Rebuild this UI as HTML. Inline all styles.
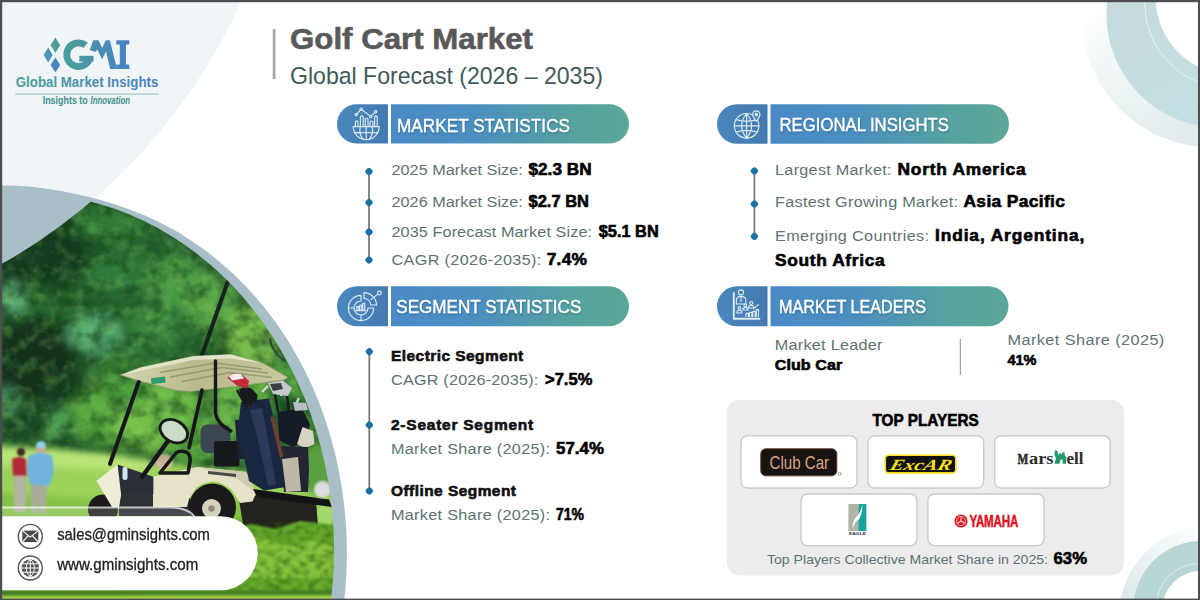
<!DOCTYPE html>
<html lang="en"><head><meta charset="utf-8"><title>Golf Cart Market</title>
<style>
html,body{margin:0;padding:0;background:#fff;}
body{width:1200px;height:600px;overflow:hidden;font-family:"Liberation Sans", sans-serif;}
svg{display:block;font-family:"Liberation Sans", sans-serif;}
text{white-space:pre;}
</style></head><body>
<svg width="1200" height="600" viewBox="0 0 1200 600">
<defs>
<linearGradient id="roofg" x1="125" y1="370" x2="280" y2="385" gradientUnits="userSpaceOnUse"><stop offset="0" stop-color="#d3d6ae"/><stop offset="0.45" stop-color="#b9ba8c"/><stop offset="1" stop-color="#c6c79c"/></linearGradient>
<linearGradient id="ringTR" x1="1110" y1="5" x2="1200" y2="115" gradientUnits="userSpaceOnUse"><stop offset="0" stop-color="#c6dada"/><stop offset="1" stop-color="#c2e0e2"/></linearGradient>
<linearGradient id="pg" x1="0" y1="0" x2="1" y2="0"><stop offset="0" stop-color="#4a8ac6"/><stop offset="0.35" stop-color="#4b8fc0"/><stop offset="0.75" stop-color="#56a2a0"/><stop offset="1" stop-color="#5ba897"/></linearGradient>
<linearGradient id="pl" x1="0" y1="0" x2="1" y2="0"><stop offset="0" stop-color="#4a86bd"/><stop offset="1" stop-color="#447bb0"/></linearGradient>
<linearGradient id="lgu" x1="63" y1="0" x2="130" y2="0" gradientUnits="userSpaceOnUse"><stop offset="0" stop-color="#4b9f97"/><stop offset="1" stop-color="#4a80c6"/></linearGradient>
<linearGradient id="lg" x1="0" y1="0" x2="1" y2="0"><stop offset="0" stop-color="#4b9f97"/><stop offset="1" stop-color="#4a7fc6"/></linearGradient>
<linearGradient id="faintTR" x1="1090" y1="10" x2="1195" y2="145" gradientUnits="userSpaceOnUse"><stop offset="0" stop-color="#ffffff"/><stop offset="0.25" stop-color="#f3f8f8"/><stop offset="1" stop-color="#dfeaea"/></linearGradient>
<linearGradient id="faintBR" x1="1198" y1="525" x2="1122" y2="598" gradientUnits="userSpaceOnUse"><stop offset="0" stop-color="#ffffff"/><stop offset="0.3" stop-color="#f2f8f8"/><stop offset="1" stop-color="#dde9e9"/></linearGradient>
<clipPath id="c1clip"><circle cx="-278.9" cy="-232.6" r="570.4"/></clipPath>
<clipPath id="innerclip"><ellipse cx="24.7" cy="550.3" rx="309.4" ry="357"/></clipPath>
<mask id="notc1"><rect x="0" y="0" width="1200" height="600" fill="#fff"/><circle cx="-278.9" cy="-232.6" r="570.4" fill="#000"/></mask>
<filter id="b3" x="-20%" y="-20%" width="140%" height="140%"><feGaussianBlur stdDeviation="3"/></filter>
<filter id="b6" x="-30%" y="-30%" width="160%" height="160%"><feGaussianBlur stdDeviation="6"/></filter>
<filter id="b10" x="-40%" y="-40%" width="180%" height="180%"><feGaussianBlur stdDeviation="10"/></filter>
<filter id="leaf" x="0" y="0" width="100%" height="100%" color-interpolation-filters="sRGB"><feTurbulence type="fractalNoise" baseFrequency="0.055 0.06" numOctaves="3" seed="7" result="n"/><feColorMatrix in="n" type="matrix" values="0 0 0 0 0.05  0 0 0 0 0.2  0 0 0 0 0.08  2.6 0 0 0 -1.05"/></filter>
<filter id="leaf2" x="0" y="0" width="100%" height="100%" color-interpolation-filters="sRGB"><feTurbulence type="fractalNoise" baseFrequency="0.07 0.075" numOctaves="3" seed="23" result="n"/><feColorMatrix in="n" type="matrix" values="0 0 0 0 0.55  0 0 0 0 0.85  0 0 0 0 0.4  0 2.8 0 0 -1.25"/></filter>
<filter id="grassn" x="0" y="0" width="100%" height="100%" color-interpolation-filters="sRGB"><feTurbulence type="fractalNoise" baseFrequency="0.12 0.2" numOctaves="2" seed="3" result="n"/><feColorMatrix in="n" type="matrix" values="0 0 0 0 0.18  0 0 0 0 0.36  0 0 0 0 0.06  0 0 2.8 0 -1.15"/></filter>
<filter id="b1" x="-10%" y="-10%" width="120%" height="120%"><feGaussianBlur stdDeviation="0.8"/></filter>
<filter id="ts" x="-5%" y="-20%" width="110%" height="150%"><feDropShadow dx="0.6" dy="1" stdDeviation="0.8" flood-color="#1d3c5c" flood-opacity="0.45"/></filter>
</defs>
<rect x="0" y="0" width="1200" height="600" fill="#ffffff"/>
<circle cx="1213" cy="16" r="131.6" fill="url(#faintTR)"/>
<circle cx="1219.4" cy="14.6" r="112.9" fill="url(#ringTR)"/>
<circle cx="1228.6" cy="4" r="83.7" fill="none" stroke="#eef7f7" stroke-width="0.8"/>
<circle cx="1231.6" cy="-1.6" r="75.8" fill="#ffffff"/>
<circle cx="1209" cy="615.6" r="89.7" fill="url(#faintBR)"/>
<circle cx="1202" cy="609.4" r="68.7" fill="#b9d6d7"/>
<circle cx="1199" cy="606" r="42.5" fill="none" stroke="#e4f3f3" stroke-width="0.8"/>
<circle cx="1201.1" cy="609.4" r="38.7" fill="#ffffff"/>
<circle cx="-278.9" cy="-232.6" r="570.4" fill="#eff4f6"/>
<path d="M-11.9 186.0 L-2.7 185.6 L6.4 185.5 L15.5 185.8 L24.6 186.3 L33.7 187.1 L42.8 188.2 L51.9 189.5 L60.9 191.1 L70.0 192.8 L79.0 194.7 L88.0 196.8 L97.0 199.1 L105.9 201.6 L114.7 204.3 L123.5 207.2 L132.2 210.4 L140.7 213.7 L149.2 217.4 L157.5 221.3 L165.7 225.4 L173.8 229.8 L181.7 234.5 L189.4 239.4 L197.0 244.5 L204.5 249.8 L211.8 255.4 L218.9 261.2 L225.9 267.2 L232.7 273.3 L239.3 279.7 L245.8 286.3 L252.0 293.0 L258.1 299.9 L264.0 307.0 L269.6 314.2 L275.1 321.6 L280.4 329.1 L285.5 336.7 L290.4 344.5 L295.0 352.4 L299.5 360.4 L303.8 368.5 L307.8 376.8 L311.7 385.1 L315.4 393.5 L318.8 402.1 L322.1 410.7 L325.1 419.4 L328.0 428.1 L330.6 436.9 L333.1 445.8 L335.3 454.8 L337.4 463.8 L339.2 472.8 L340.9 481.9 L342.3 491.0 L343.6 500.1 L344.6 509.3 L345.5 518.4 L346.1 527.6 L346.6 536.8 L346.8 546.0 L346.9 555.2 L346.7 564.3 L346.4 573.5 L345.8 582.6 L345.1 591.7 L344.1 600.7 L343.0 609.8 L-12 610 Z" fill="#a8bfc8"/>
<g clip-path="url(#innerclip)"><g mask="url(#notc1)" id="photo">
<rect x="0" y="180" width="360" height="420" fill="#2f6e36"/>
<!-- foliage -->
<g filter="url(#b6)">
<rect x="-20" y="170" width="400" height="300" fill="#27632f"/>
<ellipse cx="40" cy="255" rx="50" ry="34" fill="#153d20"/>
<ellipse cx="35" cy="360" rx="45" ry="42" fill="#12331d"/>
<ellipse cx="75" cy="395" rx="32" ry="20" fill="#163f22"/>
<ellipse cx="150" cy="252" rx="32" ry="22" fill="#2a6a30"/>
<ellipse cx="110" cy="225" rx="36" ry="16" fill="#2f7a36"/>
<ellipse cx="120" cy="275" rx="30" ry="18" fill="#2e7a3a"/>
<ellipse cx="175" cy="282" rx="30" ry="24" fill="#4c9c44"/>
<ellipse cx="210" cy="300" rx="26" ry="26" fill="#58a646"/>
<ellipse cx="255" cy="335" rx="32" ry="32" fill="#74ba48"/>
<ellipse cx="160" cy="320" rx="30" ry="22" fill="#3a8a40"/>
<ellipse cx="14" cy="298" rx="11" ry="15" fill="#5fae7c"/>
<ellipse cx="95" cy="334" rx="27" ry="19" fill="#55ac72"/>
<ellipse cx="150" cy="355" rx="26" ry="18" fill="#2f7436"/>
<ellipse cx="6" cy="400" rx="8" ry="12" fill="#5cb07c"/>
<ellipse cx="52" cy="424" rx="18" ry="13" fill="#52a85c"/>
<ellipse cx="100" cy="415" rx="30" ry="28" fill="#55a83c"/>
<ellipse cx="150" cy="422" rx="40" ry="30" fill="#74c04a"/>
<ellipse cx="25" cy="425" rx="26" ry="14" fill="#1d4a26"/>
<ellipse cx="238" cy="410" rx="30" ry="34" fill="#64b046"/>
<ellipse cx="322" cy="440" rx="24" ry="56" fill="#37762e"/>
<ellipse cx="298" cy="368" rx="26" ry="26" fill="#4c9a3e"/>
<ellipse cx="200" cy="440" rx="40" ry="20" fill="#58a83e"/>
<ellipse cx="128" cy="385" rx="28" ry="22" fill="#4a9c3a"/>
<ellipse cx="170" cy="405" rx="30" ry="24" fill="#6ebc46"/>
<ellipse cx="250" cy="385" rx="22" ry="20" fill="#62b044"/>
</g>
<path d="M-10 180 H360 V478 L220 470 L160 462 L110 454 L60 449 L-10 445 Z" fill="#000" filter="url(#leaf)" opacity="0.55"/>
<path d="M-10 180 H360 V478 L220 470 L160 462 L110 454 L60 449 L-10 445 Z" fill="#000" filter="url(#leaf2)" opacity="0.28"/>
<!-- grass -->
<g filter="url(#b3)">
<path d="M-10 445 L60 449 L110 454 L160 462 L220 470 L360 478 L360 610 L-10 610 Z" fill="#9bd35a"/>
<path d="M-10 446 L60 450 L110 455 L150 461 L150 472 L-10 464 Z" fill="#b8e476"/>
<path d="M-10 492 L120 500 L360 500 L360 610 L-10 610 Z" fill="#86c246"/>
<path d="M120 522 L360 516 L360 610 L120 610 Z" fill="#6cb030"/>
<ellipse cx="320" cy="470" rx="22" ry="26" fill="#5aa040"/>
<ellipse cx="325" cy="515" rx="12" ry="14" fill="#a5d86a"/>
</g>
<!-- golfers -->
<g filter="url(#b1)">
<rect x="14" y="474" width="12" height="38" rx="3" fill="#b3b3a3"/>
<path d="M12 459 Q19 455 26 459 L27 476 L13 476 Z" fill="#b22a38"/>
<circle cx="21" cy="452" r="4.2" fill="#3a2a22"/>
<path d="M31 484 L47 484 L45 514 L39 514 L38 496 L36 514 L31 514 Z" fill="#a9ab9c"/>
<path d="M28 456 Q40 449 52 456 L54 470 L50 485 L30 485 L27 470 Z" fill="#6fb3dc"/>
<ellipse cx="41" cy="445.5" rx="5" ry="4.5" fill="#90d0e8"/>
<rect x="36" y="448" width="10" height="4" fill="#c9a58a"/>
<ellipse cx="164" cy="462" rx="9" ry="8" fill="#d9b9a6" opacity="0.85"/>
</g>
<!-- cart -->
<g>
<path d="M228 281 L196 372" stroke="#16241d" stroke-width="4" fill="none" stroke-linecap="round"/>
<path d="M270 338 Q271 352 285 361" stroke="#2a3a40" stroke-width="2" fill="none" opacity="0.8"/>
<!-- under body -->
<path d="M119 490 L190 494 L190 516 L119 516 Z" fill="#23272b"/>
<path d="M238 494 L316 501 L318 526 L300 532 L244 530 Z" fill="#23231d"/>
<!-- wheels -->
<circle cx="103" cy="509.5" r="15" fill="#1b1b1b"/>
<circle cx="212.5" cy="507" r="23.5" fill="#1a1a1a"/>
<circle cx="211.5" cy="508.5" r="9.5" fill="#d5d1bd"/>
<circle cx="211.5" cy="508.5" r="3.2" fill="#8f8c7c"/>
<!-- body -->
<path d="M96.5 481 L117.6 464.4 L153.4 476.7 L197.2 467 L246 471.9 L256 493 L252.5 501.5 L240 503 L232 490 Q214 474 196 488 L189 499 L187 507 L119 507 L114 494 Z" fill="#e7e3c8"/>
<path d="M197 467 L246 472 L256 493 L238 479 Z" fill="#cfcbb0"/>
<path d="M117.6 464.4 L153.4 476.7 L153.4 494 L121 494 L116 480 Z" fill="#2a3036"/>
<rect x="122.5" y="467" width="5" height="13" rx="2" fill="#cfe6f2"/>
<path d="M121 494 L153 494 L153 507 L119 507 Z" fill="#2f3338"/>
<path d="M96.5 481 L117.6 464.4 L121 494 L119 507 L112 507 Z" fill="#efecd6"/>
<path d="M208 471 L236 474 L236 477 L208 474 Z" fill="#4a4a44"/>
<!-- seat -->
<rect x="200.5" y="424.5" width="30" height="28.5" rx="7" fill="#3b4650"/>
<rect x="214" y="441" width="25.5" height="25.5" rx="2" fill="#16191c"/>
<path d="M235 420 L250 420 L250 459 L238 459 Z" fill="#1b2230"/>
<!-- armrest -->
<path d="M160 473 L176 453 Q180 450 186 452 Q191 454 190 462 L188 473 Z" fill="none" stroke="#15171a" stroke-width="3.6" stroke-linejoin="round"/>
<!-- steering -->
<path d="M168 441 L142 477" stroke="#15171a" stroke-width="4.5" stroke-linecap="round"/>
<ellipse cx="173.8" cy="431.2" rx="14.6" ry="10.6" transform="rotate(30 173.8 431.2)" fill="#c9dcc8" stroke="#15171a" stroke-width="2.8"/>
<!-- roof -->
<path d="M120.5 375 L140.8 367.5 L193.3 356.3 L230.7 354.5 L263.3 363.3 L287.8 377.3 L284.3 379.9 L230.7 386.9 L189.8 391.5 L177 390.4 L139.7 381 Z" fill="url(#roofg)" stroke="#9a9c74" stroke-width="0.8"/>
<path d="M120.5 375 L140.8 367.5 L193.3 356.3 L230.7 354.5 L263.3 363.3 L230 358.5 L193 360 L142 370.5 Z" fill="#e6ead2" opacity="0.85"/>
<path d="M160 372.5 L215 363 L262 369 M170 377 L222 367.5 L268 373 M182 381.5 L230 372.5 L272 377.5" stroke="#8f9068" stroke-width="1.3" fill="none" opacity="0.8"/>
<path d="M151 378.2 L165 376.6 L165.6 382.6 L151.6 384.2 Z" fill="#2f9b6d"/>
<!-- struts -->
<path d="M138.7 382 L110 464" stroke="#15171a" stroke-width="4" stroke-linecap="round"/>
<path d="M202 390 L189 448" stroke="#15171a" stroke-width="3.6" stroke-linecap="round"/>
<path d="M215.5 361 L215.5 413 Q217 424 231 431" stroke="#15171a" stroke-width="3.4" fill="none" stroke-linecap="round"/>
<!-- bags -->
<path d="M241 402 L269 398.5 L274 420 L279 450 L286 487 L264 490.5 L249 481 L244 456 L237 438 Z" fill="#1b2740"/>
<path d="M250 410 L262 408 L270 450 L276 484 L268 486 L258 440 Z" fill="#2a3a58"/>
<path d="M277.5 412 L302 408.5 L310 424.5 L306.5 442 L292 447 L279 440 Z" fill="#161b28"/>
<path d="M302.5 427 L313 431 L314.5 444 L305 448 L297 444 Z" fill="#d8d4c4"/>
<path d="M280 446 L308 447 L309 470 L308 492 L284 492 Z" fill="#232630"/>
<path d="M282 459 L298 457 L301 491 L286 492 Z" fill="#bdb8a8"/>
<path d="M272 416.6 L281.7 457" stroke="#6b4030" stroke-width="3.6"/>
<!-- clubs -->
<path d="M239 389 L246 386.5 L252 389 L257.5 395 L257 402 L246 404 L241 398 Z" fill="#15181d"/>
<path d="M262 392 L268 386 M281 396 L284 388 M296 404 L299 398" stroke="#d5d9dc" stroke-width="2.2"/>
<path d="M237 390 L247 408 M244 388 L251 406 M275 394 L278 412 M287 395 L289 412 M300 406 L300 413" stroke="#1a1a1a" stroke-width="2.4"/>
<path d="M227.5 378 Q232 371 242 374.5 L249 381 L247 388.5 L237 385.5 Z" fill="#c4283c"/>
<path d="M229 376.5 Q233 372 241 374 L244 378.5 L232 380.5 Z" fill="#f0ecec"/>
<path d="M268 383 L283 380.5 L292 388 L288 396 L273 394 Z" fill="#c4c9cd"/>
<path d="M270 384 L281 383 L283 389 L273 391 Z" fill="#3a3f45"/>
<path d="M293 402 L306 403 L308 410 L295 411 Z" fill="#b9bec2"/>
<!-- platform -->
<path d="M253 489 L329 499.5 L332 507 L257 497 Z" fill="#111316"/>
<ellipse cx="322.5" cy="489.5" rx="8.5" ry="8.5" fill="#dcdcdc" filter="url(#b1)"/>
</g>
<!-- foreground grass -->
<g filter="url(#b1)">
<path d="M225 532 L250 524 L275 529 L300 521 L335 525 L340 610 L225 610 Z" fill="#67ab2c"/>
<path d="M232 545 L262 537 L290 547 L318 539 L335 549 L335 578 L232 578 Z" fill="#84c43c"/>
<path d="M225 528 L340 522 L340 592 L258 592 Q262 560 240 540 Z" fill="#000" filter="url(#grassn)" opacity="0.6"/>
<path d="M0 590 L340 590 L340 596 L0 596 Z" fill="#4a8226"/>
<path d="M0 596 L340 595.5 L340 600 L0 600 Z" fill="#a2d444"/>
</g>

</g></g>
<path d="M0 507.5 H172 Q188 508 194.5 516.5 L194.5 520 H0 Z" fill="#ffffff" fill-opacity="0.16"/>
<path d="M0 507.5 H172 Q188 508 194.5 516.5" fill="none" stroke="#ffffff" stroke-opacity="0.7" stroke-width="2"/>
<path d="M0 516.2 H220.8 a37 37 0 0 1 0 74 H0 Z" fill="#ffffff"/>
<circle cx="30.3" cy="536.4" r="12" fill="#fff" stroke="#555" stroke-width="1.4"/>
<circle cx="30.3" cy="568" r="12" fill="#fff" stroke="#555" stroke-width="1.4"/>
<g transform="translate(0.3 0.6)"><rect x="22" y="530" width="16" height="11.5" fill="#4a4a4a"/><path d="M22 530 L30 536.5 L38 530 M22 541.5 L28 535 M38 541.5 L32 535" stroke="#fff" stroke-width="1.1" fill="none"/></g>
<g transform="translate(0.3 0.5)"><circle cx="30" cy="567.5" r="8.7" fill="#555"/><path d="M21.3 567.5 H38.7 M22.6 563.3 H37.4 M22.6 571.7 H37.4 M30 558.8 V576.2 M30 558.8 C24.6 563 24.6 572 30 576.2 M30 558.8 C35.4 563 35.4 572 30 576.2" stroke="#fff" stroke-width="1" fill="none"/></g>
<text transform="translate(57.2 540.3) scale(0.9513 1)" font-size="15.6" font-weight="normal" fill="#222" textLength="160.6" lengthAdjust="spacing" stroke="#222" stroke-width="0.3">sales@gminsights.com</text>
<text transform="translate(57.2 569.6) scale(0.9688 1)" font-size="15.6" font-weight="normal" fill="#222" textLength="145.6" lengthAdjust="spacing" stroke="#222" stroke-width="0.3">www.gminsights.com</text>
<path d="M55.4 37.4 L60.2 45.2 L55.4 52.8 L50.6 45.2 Z" fill="#4b9d98"/>
<path d="M48.2 47.4 L52.7 54.9 L48.2 62.4 L43.7 54.9 Z" fill="#4a93b2"/>
<path d="M55.4 57.4 L60.2 64.9 L55.4 72.4 L50.6 64.9 Z" fill="#4a84c2"/>
<g fill="url(#lgu)"><path d="M85.7 45.3 A11.8 11.8 0 1 0 90.1 57" fill="none" stroke="url(#lgu)" stroke-width="6.8"/><rect x="79.3" y="55.8" width="14.2" height="5.8"/><path d="M89.6 50 L93.3 40.2 L98.6 40.2 L102.1 48 L105.8 40.2 L109.9 40.2 L117 68.9 L110.2 68.9 L106 51.5 L102.1 59.5 L97.3 49.6 L95.2 52 Z"/><path d="M116.3 40.2 H129.3 V44.6 H126 V64.5 H129.3 V68.9 H116.3 V64.5 H119.8 V44.6 H116.3 Z"/></g>
<text transform="translate(15.7 87.2) scale(0.8991 1)" font-size="14.8" font-weight="bold" fill="url(#lg)" textLength="158.7" lengthAdjust="spacing">Global Market Insights</text>
<rect x="15" y="93.6" width="143.5" height="1" fill="#93bdb6"/>
<text transform="translate(42.7 104.2) scale(0.8478 1)" font-size="10.5" font-weight="bold" fill="#3f8f8a" textLength="53.1" lengthAdjust="spacing">Insights to</text>
<text transform="translate(90.5 104.2) scale(0.7441 1)" font-size="10.5" font-weight="bold" fill="#3f8f8a" textLength="53.1" lengthAdjust="spacing" font-style="italic">Innovation</text>
<rect x="272.7" y="29" width="2.8" height="50" fill="#a9a9a9"/>
<text transform="translate(290.0 49.0) scale(1.0589 1)" font-size="29.5" font-weight="bold" fill="#595959" textLength="229.5" lengthAdjust="spacing" stroke="#595959" stroke-width="0.6">Golf Cart Market</text>
<text transform="translate(290.0 84.0) scale(0.9820 1)" font-size="23.5" font-weight="normal" fill="#3f5a5a" textLength="318.7" lengthAdjust="spacing">Global Forecast (2026 – 2035)</text>
<path d="M356.65 104.3 H388 V143.6 H356.65 A19.65 19.65 0 0 1 356.65 104.3 Z" fill="url(#pl)"/>
<path d="M391 104.3 H609.35 A19.65 19.65 0 0 1 609.35 143.6 H391 Z" fill="url(#pg)"/>
<text transform="translate(397.0 132.0) scale(0.9248 1)" font-size="18.6" font-weight="normal" fill="#ffffff" textLength="187.1" lengthAdjust="spacing" filter="url(#ts)" stroke="#fff" stroke-width="0.35">MARKET STATISTICS</text>
<path d="M357.0 286.3 H388 V326.3 H357.0 A20.0 20.0 0 0 1 357.0 286.3 Z" fill="url(#pl)"/>
<path d="M391 286.3 H609.0 A20.0 20.0 0 0 1 609.0 326.3 H391 Z" fill="url(#pg)"/>
<text transform="translate(396.3 313.2) scale(0.9180 1)" font-size="18.6" font-weight="normal" fill="#ffffff" textLength="201.5" lengthAdjust="spacing" filter="url(#ts)" stroke="#fff" stroke-width="0.35">SEGMENT STATISTICS</text>
<path d="M736.75 104.3 H767.5 V143.8 H736.75 A19.750000000000007 19.750000000000007 0 0 1 736.75 104.3 Z" fill="url(#pl)"/>
<path d="M770.5 104.3 H989.25 A19.750000000000007 19.750000000000007 0 0 1 989.25 143.8 H770.5 Z" fill="url(#pg)"/>
<text transform="translate(779.5 131.3) scale(0.8995 1)" font-size="18.6" font-weight="normal" fill="#ffffff" textLength="188.4" lengthAdjust="spacing" filter="url(#ts)" stroke="#fff" stroke-width="0.35">REGIONAL INSIGHTS</text>
<path d="M737.0 286.3 H767.5 V326.3 H737.0 A20.0 20.0 0 0 1 737.0 286.3 Z" fill="url(#pl)"/>
<path d="M770.5 286.3 H988.5 A20.0 20.0 0 0 1 988.5 326.3 H770.5 Z" fill="url(#pg)"/>
<text transform="translate(779.0 312.6) scale(0.8689 1)" font-size="18.6" font-weight="normal" fill="#ffffff" textLength="169.2" lengthAdjust="spacing" filter="url(#ts)" stroke="#fff" stroke-width="0.35">MARKET LEADERS</text>
<!-- market statistics icon -->
<g fill="none" stroke="#dcebf6" stroke-width="1.15" stroke-linecap="round" stroke-linejoin="round">
<path d="M353.2 126.6 H379.2 A13 13 0 0 1 353.2 126.6 Z"/>
<path d="M366.2 126.6 V139.6 M354.6 132.6 H377.8 M360.3 126.6 Q358.5 134 363.2 139.2 M372.1 126.6 Q373.9 134 369.2 139.2"/>
<path d="M355.4 126.2 V121.6 Q356.7 120 358 121.6 V126.2 M360.4 126.2 V116.8 Q361.8 115 363.2 116.8 V126.2 M365.2 126.2 V119 Q366.6 117.4 368 119 V126.2 M370 126.2 V121.8 Q371.4 120.2 372.8 121.8 V126.2 M374.6 126.2 V116.8 Q375.9 115 377.2 116.8 V126.2"/>
<path d="M357 113.8 L360.4 110 M362.2 110 L369.8 115.6 M371.6 115.6 L374.8 112.6"/>
<circle cx="356.2" cy="114.6" r="1.2"/><circle cx="361.2" cy="109.2" r="1.2"/><circle cx="370.7" cy="116.4" r="1.2"/><circle cx="375.6" cy="111.8" r="1.2"/>
</g>
<!-- segment statistics icon -->
<g fill="none" stroke="#dcebf6" stroke-width="1.15" stroke-linecap="round" stroke-linejoin="round">
<path d="M361 295.4 A12.6 12.6 0 1 0 373.6 308 H368 A7 7 0 1 1 361 301 Z"/>
<path d="M348.4 308 H354 M361 315 V320.6"/>
<path d="M364 292.6 A13 13 0 0 1 376.6 305 H370.8 A7.4 7.4 0 0 0 364 298.4 Z"/>
<path d="M371 299.6 L377.6 294.4"/>
<circle cx="379.4" cy="293" r="1.9"/>
<path d="M356.8 310.4 V306.6 H358.8 V310.4 M359.8 310.4 V305 H361.8 V310.4 M362.8 310.4 V303.2 H364.8 V310.4 M356 310.6 H365.6"/>
</g>
<!-- regional insights icon -->
<g fill="none" stroke="#dcebf6" stroke-width="1.15" stroke-linecap="round" stroke-linejoin="round">
<circle cx="746.6" cy="125.8" r="12.3"/>
<path d="M746.6 113.5 V138.1 M734.3 125.8 H758.9 M736 119.6 Q746.6 123 757.2 119.6 M736 132 Q746.6 128.6 757.2 132 M746.6 113.5 Q736.6 125.8 746.6 138.1 M746.6 113.5 Q756.6 125.8 746.6 138.1"/>
<path d="M756.3 121.4 Q752.6 116.6 752.6 114.6 A3.7 3.7 0 0 1 760 114.6 Q760 116.6 756.3 121.4 Z" fill="#4680b6"/>
<circle cx="756.3" cy="114.6" r="1.2" fill="#dcebf6"/>
</g>
<!-- market leaders icon -->
<g fill="none" stroke="#dcebf6" stroke-width="1.1" stroke-linecap="round" stroke-linejoin="round">
<path d="M733.8 293 V318.8 H759.4" stroke-width="1.9"/>
<circle cx="741" cy="292.4" r="2.5"/>
<path d="M736.4 304 V299.6 Q736.6 296.6 741 296.4 Q745.6 296.6 745.8 299.6 V304 Z M741 296.6 V301.6"/>
<circle cx="739.4" cy="308" r="1.4"/><path d="M736.8 313 Q737 310.2 739.4 310.2 Q741.8 310.2 742 313 Z"/>
<circle cx="745.4" cy="305.4" r="1.4"/><path d="M742.8 310 Q743 307.4 745.4 307.4 Q747.8 307.4 748 310 Z"/>
<circle cx="751.2" cy="303" r="1.5"/><path d="M748.4 308 Q748.6 305.2 751.2 305.2 Q753.8 305.2 754 308 Z"/>
<path d="M746 316.6 V313.4 H748.4 V316.6 M749.4 316.6 V312.4 H751.8 V316.6 M752.8 316.6 V311.4 H755.2 V316.6 M756.2 316.6 V309.6 H758.4 V316.6"/>
<path d="M753.6 308.6 L758.4 304.6"/>
</g>

<rect x="368.1" y="171.5" width="1.8" height="88.5" fill="#7a7a7a"/>
<rect x="365.7" y="168.2" width="6.6" height="6.6" rx="2.3" transform="rotate(45 369 171.5)" fill="#1b72a2"/>
<rect x="365.7" y="199.2" width="6.6" height="6.6" rx="2.3" transform="rotate(45 369 202.5)" fill="#1b72a2"/>
<rect x="365.7" y="228.7" width="6.6" height="6.6" rx="2.3" transform="rotate(45 369 232)" fill="#1b72a2"/>
<rect x="365.7" y="256.7" width="6.6" height="6.6" rx="2.3" transform="rotate(45 369 260)" fill="#1b72a2"/>
<rect x="368.40000000000003" y="351.7" width="1.8" height="139.3" fill="#7a7a7a"/>
<rect x="366.0" y="348.4" width="6.6" height="6.6" rx="2.3" transform="rotate(45 369.3 351.7)" fill="#1b72a2"/>
<rect x="366.0" y="421.7" width="6.6" height="6.6" rx="2.3" transform="rotate(45 369.3 425)" fill="#1b72a2"/>
<rect x="366.0" y="487.7" width="6.6" height="6.6" rx="2.3" transform="rotate(45 369.3 491)" fill="#1b72a2"/>
<rect x="753.5" y="171" width="1.8" height="65.4" fill="#7a7a7a"/>
<rect x="751.1" y="167.7" width="6.6" height="6.6" rx="2.3" transform="rotate(45 754.4 171)" fill="#1b72a2"/>
<rect x="751.1" y="200.7" width="6.6" height="6.6" rx="2.3" transform="rotate(45 754.4 204)" fill="#1b72a2"/>
<rect x="751.1" y="233.1" width="6.6" height="6.6" rx="2.3" transform="rotate(45 754.4 236.4)" fill="#1b72a2"/>
<text transform="translate(391.5 175.3) scale(1.0600 1)" font-size="15.3" font-weight="normal" fill="#5d7272" textLength="123.8" lengthAdjust="spacing">2025 Market Size:</text>
<text transform="translate(528.5 175.3) scale(1.0471 1)" font-size="16.4" font-weight="bold" fill="#000" textLength="60.2" lengthAdjust="spacing" stroke="#000" stroke-width="0.6">$2.3 BN</text>
<text transform="translate(391.5 206.8) scale(1.0600 1)" font-size="15.3" font-weight="normal" fill="#5d7272" textLength="123.8" lengthAdjust="spacing">2026 Market Size:</text>
<text transform="translate(528.5 206.8) scale(1.0056 1)" font-size="16.4" font-weight="bold" fill="#000" textLength="60.2" lengthAdjust="spacing" stroke="#000" stroke-width="0.6">$2.7 BN</text>
<text transform="translate(391.5 237.2) scale(1.0600 1)" font-size="15.3" font-weight="normal" fill="#5d7272" textLength="189.2" lengthAdjust="spacing">2035 Forecast Market Size:</text>
<text transform="translate(598.7 237.2) scale(0.9973 1)" font-size="16.4" font-weight="bold" fill="#000" textLength="60.2" lengthAdjust="spacing" stroke="#000" stroke-width="0.6">$5.1 BN</text>
<text transform="translate(391.5 265.2) scale(1.0600 1)" font-size="15.3" font-weight="normal" fill="#5d7272" textLength="141.3" lengthAdjust="spacing">CAGR (2026-2035):</text>
<text transform="translate(546.7 265.2) scale(1.0600 1)" font-size="16.4" font-weight="bold" fill="#000" textLength="38.0" lengthAdjust="spacing" stroke="#000" stroke-width="0.6">7.4%</text>
<text transform="translate(391.0 361.0) scale(1.0600 1)" font-size="14.6" font-weight="bold" fill="#111" textLength="124.8" lengthAdjust="spacing" stroke="#111" stroke-width="0.6">Electric Segment</text>
<text transform="translate(391.0 385.0) scale(1.0600 1)" font-size="15.3" font-weight="normal" fill="#5d7272" textLength="139.0" lengthAdjust="spacing">CAGR (2026-2035):</text>
<text transform="translate(545.0 385.0) scale(1.0073 1)" font-size="16.4" font-weight="bold" fill="#000" textLength="47.0" lengthAdjust="spacing" stroke="#000" stroke-width="0.6">&gt;7.5%</text>
<text transform="translate(391.0 430.0) scale(1.0600 1)" font-size="14.6" font-weight="bold" fill="#111" textLength="134.2" lengthAdjust="spacing" stroke="#111" stroke-width="0.6">2-Seater Segment</text>
<text transform="translate(391.0 454.0) scale(1.0600 1)" font-size="15.3" font-weight="normal" fill="#5d7272" textLength="150.0" lengthAdjust="spacing">Market Share (2025):</text>
<text transform="translate(556.0 454.0) scale(1.0322 1)" font-size="16.4" font-weight="bold" fill="#000" textLength="46.5" lengthAdjust="spacing" stroke="#000" stroke-width="0.6">57.4%</text>
<text transform="translate(391.0 496.0) scale(1.0600 1)" font-size="14.6" font-weight="bold" fill="#111" textLength="117.9" lengthAdjust="spacing" stroke="#111" stroke-width="0.6">Offline Segment</text>
<text transform="translate(391.0 520.0) scale(1.0600 1)" font-size="15.3" font-weight="normal" fill="#5d7272" textLength="150.0" lengthAdjust="spacing">Market Share (2025):</text>
<text transform="translate(556.0 520.0) scale(0.8530 1)" font-size="16.4" font-weight="bold" fill="#000" textLength="32.8" lengthAdjust="spacing" stroke="#000" stroke-width="0.6">71%</text>
<text transform="translate(775.1 174.9) scale(1.0600 1)" font-size="15.3" font-weight="normal" fill="#5d7272" textLength="109.8" lengthAdjust="spacing">Largest Market:</text>
<text transform="translate(897.5 174.9) scale(1.0600 1)" font-size="16.4" font-weight="bold" fill="#000" textLength="120.8" lengthAdjust="spacing" stroke="#000" stroke-width="0.6">North America</text>
<text transform="translate(775.1 207.0) scale(1.0600 1)" font-size="15.3" font-weight="normal" fill="#5d7272" textLength="172.6" lengthAdjust="spacing">Fastest Growing Market:</text>
<text transform="translate(963.5 207.0) scale(1.0600 1)" font-size="16.4" font-weight="bold" fill="#000" textLength="95.7" lengthAdjust="spacing" stroke="#000" stroke-width="0.6">Asia Pacific</text>
<text transform="translate(775.1 240.6) scale(1.0600 1)" font-size="15.3" font-weight="normal" fill="#5d7272" textLength="145.2" lengthAdjust="spacing">Emerging Countries:</text>
<text transform="translate(935.0 240.6) scale(1.0600 1)" font-size="16.4" font-weight="bold" fill="#000" textLength="140.9" lengthAdjust="spacing" stroke="#000" stroke-width="0.6">India, Argentina,</text>
<text transform="translate(775.1 265.5) scale(1.0600 1)" font-size="16.4" font-weight="bold" fill="#000" textLength="103.3" lengthAdjust="spacing" stroke="#000" stroke-width="0.6">South Africa</text>
<text transform="translate(774.7 350.2) scale(1.0600 1)" font-size="15.3" font-weight="normal" fill="#5d7272" textLength="101.7" lengthAdjust="spacing">Market Leader</text>
<text transform="translate(774.7 369.8) scale(1.0600 1)" font-size="15.2" font-weight="bold" fill="#000" textLength="63.8" lengthAdjust="spacing" stroke="#000" stroke-width="0.6">Club Car</text>
<rect x="959.8" y="339" width="1" height="36" fill="#8a8a8a"/>
<text transform="translate(1007.5 345.3) scale(1.0600 1)" font-size="15.3" font-weight="normal" fill="#5d7272" textLength="147.9" lengthAdjust="spacing">Market Share (2025)</text>
<text transform="translate(1007.5 364.6) scale(0.9532 1)" font-size="15.2" font-weight="bold" fill="#000" textLength="30.4" lengthAdjust="spacing" stroke="#000" stroke-width="0.6">41%</text>
<rect x="727" y="400" width="397" height="175.5" rx="13" fill="#ececec"/>
<text transform="translate(872.5 426.3) scale(0.9354 1)" font-size="16.4" font-weight="bold" fill="#000" textLength="113.6" lengthAdjust="spacing" stroke="#000" stroke-width="0.6">TOP PLAYERS</text>
<rect x="741" y="435.8" width="116" height="52.2" rx="6.5" fill="#ffffff" stroke="#c9c9c9" stroke-width="1.3"/>
<rect x="868" y="435.8" width="115.7" height="52.2" rx="6.5" fill="#ffffff" stroke="#c9c9c9" stroke-width="1.3"/>
<rect x="994.7" y="435.8" width="115.5" height="52.2" rx="6.5" fill="#ffffff" stroke="#c9c9c9" stroke-width="1.3"/>
<rect x="801" y="494" width="116" height="51.6" rx="6.5" fill="#ffffff" stroke="#c9c9c9" stroke-width="1.3"/>
<rect x="928" y="494" width="116" height="51.6" rx="6.5" fill="#ffffff" stroke="#c9c9c9" stroke-width="1.3"/>
<!-- Club Car -->
<rect x="760.8" y="448.8" width="76" height="27" rx="5" fill="#171311" stroke="#5a3a2a" stroke-width="1"/>
<text transform="translate(769.6 469.2)" font-size="19" fill="#dba582" textLength="59.5" lengthAdjust="spacingAndGlyphs">Club Car</text>
<circle cx="839.6" cy="473.8" r="1.5" fill="none" stroke="#444" stroke-width="0.5"/>
<!-- ExCar -->
<rect x="885.3" y="455.3" width="70.5" height="17.6" rx="3.5" fill="#111" stroke="#f2df1c" stroke-width="1.6"/>
<text transform="translate(889 470) scale(1.25 1) skewX(-14)" font-size="15.5" font-weight="bold" font-style="italic" fill="#f2df1c" font-family="'Liberation Serif', serif" textLength="49" lengthAdjust="spacingAndGlyphs">ExcAR</text>
<!-- Marshell -->
<text transform="translate(1017.5 463.8)" font-size="13.6" font-weight="bold" stroke="#2b2b2b" stroke-width="0.5" fill="#2b2b2b" font-family="'Liberation Serif', serif" textLength="10.8" lengthAdjust="spacingAndGlyphs">M</text><text transform="translate(1029 463.8)" font-size="16.8" font-weight="bold" fill="#2b2b2b" font-family="'Liberation Serif', serif" textLength="24.5" lengthAdjust="spacingAndGlyphs">ars</text>
<path d="M1055 450 L1057.5 451 L1058 455 L1060 453 L1062 454.5 L1062.5 452 L1064.5 452.5 L1065 456 L1066.5 457 L1066 463.8 L1062.8 463.8 L1062.5 459.5 L1060.5 459.5 L1059.5 463.8 L1054.5 463.8 L1056 458 L1054.5 455 Z" fill="#1e9a68"/>
<text transform="translate(1066.5 463.8)" font-size="16.8" font-weight="bold" fill="#2b2b2b" font-family="'Liberation Serif', serif" textLength="17" lengthAdjust="spacingAndGlyphs">ell</text>
<!-- Eagle -->
<rect x="848.4" y="504" width="10" height="27" fill="#b3b2a6"/>
<rect x="858.4" y="504" width="8" height="27" fill="#15a39a"/>
<path d="M862.5 504.5 Q860.5 513 856.5 516.5 Q852.5 520 852.5 529 Q855 521.5 858.5 519.5 Q862 516.5 862.5 504.5 Z" fill="#ffffff"/>
<text x="849" y="535.2" font-size="3.6" font-weight="bold" fill="#333" textLength="17" lengthAdjust="spacingAndGlyphs">EAGLE</text>
<!-- Yamaha -->
<circle cx="961" cy="521" r="6.6" fill="#e0222c"/>
<circle cx="961" cy="521" r="4.6" fill="none" stroke="#f6b0b4" stroke-width="0.8"/>
<path d="M961 516 V521 L956.8 523.6 M961 521 L965.2 523.6" stroke="#f9d0d2" stroke-width="1.1" fill="none"/>
<text transform="translate(969.4 527.2) scale(0.7 1)" font-size="16.6" font-weight="bold" fill="#e0121c" textLength="70" lengthAdjust="spacing" stroke="#e0121c" stroke-width="0.5">YAMAHA</text>

<text transform="translate(767.0 563.6) scale(1.0354 1)" font-size="13.6" font-weight="normal" fill="#5d7272" textLength="271.4" lengthAdjust="spacing">Top Players Collective Market Share in 2025:</text>
<text transform="translate(1053.6 563.6) scale(1.0175 1)" font-size="16.4" font-weight="bold" fill="#000" textLength="32.8" lengthAdjust="spacing" stroke="#000" stroke-width="0.6">63%</text>
<rect x="0" y="0" width="1200" height="2.2" fill="#4d4d4f"/>
<rect x="0" y="0" width="2.2" height="600" fill="#4d4d4f"/>
<rect x="1198" y="0" width="2" height="600" fill="#4d4d4f"/>
<rect x="0" y="598.6" width="1200" height="1.4" fill="#4d4d4f"/>
</svg>
</body></html>
